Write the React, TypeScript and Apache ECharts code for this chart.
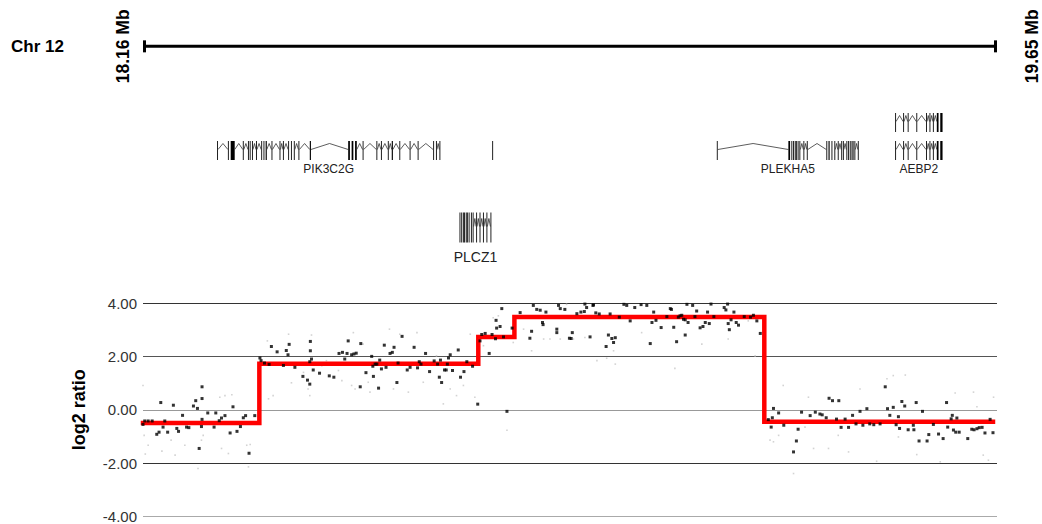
import { useEffect, useRef } from "react";
import * as echarts from "echarts";

// ---------- data ----------
const CHROM_LABEL = "Chr 12";
const REGION_START = 18.16; // Mb
const REGION_END = 19.65; // Mb
const RULER_LANE = -2.72;

// copy-number segments (Mb, log2 ratio)
const SEG_START = [18.16, 18.363, 18.745, 18.808, 19.244];
const SEG_END = [18.363, 18.745, 18.808, 19.244, 19.643];
const SEG_VALUE = [-0.5, 1.72, 2.73, 3.48, -0.45];

// probes (Mb, log2 ratio)
const PROBES: [number, number][] = [
  [18.16, -0.55], [18.163, -0.42], [18.169, -0.42], [18.176, -0.42], [18.184, -0.92], [18.188, -0.84], [18.191, 0.27], [18.195, -0.65],
  [18.198, -0.42], [18.203, -0.84], [18.213, 0.17], [18.219, -0.7], [18.222, -0.81], [18.229, -0.21], [18.236, -0.65], [18.24, -0.67],
  [18.248, 0.14], [18.252, 0.34], [18.255, 0.05], [18.258, -1.45], [18.262, -0.63], [18.263, -0.36], [18.263, 0.42], [18.263, 0.86],
  [18.273, -0.12], [18.284, -0.65], [18.287, -0.12], [18.293, -0.41], [18.297, -0.31], [18.303, -0.22], [18.312, -0.87], [18.317, 0.11],
  [18.324, -0.81], [18.33, -0.63], [18.335, -0.3], [18.339, -0.22], [18.345, -1.63], [18.355, -0.22],
  [18.364, 1.94], [18.366, 1.84], [18.372, 1.75], [18.38, 1.7], [18.384, 2.37], [18.394, 2.17], [18.405, 1.66], [18.41, 2.22],
  [18.413, 2.06], [18.415, 2.45], [18.425, 1.59], [18.439, 1.25], [18.447, 1.11], [18.451, 0.96], [18.451, 1.8], [18.452, 2.21],
  [18.452, 2.56], [18.454, 1.9], [18.457, 1.49], [18.468, 1.37], [18.485, 1.27], [18.493, 1.22], [18.502, 2.11], [18.508, 2.15],
  [18.512, 1.9], [18.516, 2.11], [18.518, 2.58], [18.524, 2.06], [18.528, 2.09], [18.532, 2.12],
  [18.539, 0.86], [18.54, 2.48], [18.549, 1.39], [18.559, 2.0], [18.561, 1.63], [18.562, 1.25], [18.565, 1.71], [18.568, 1.71],
  [18.571, 0.81], [18.573, 1.86], [18.576, 1.53], [18.581, 2.42], [18.584, 1.59], [18.591, 2.11], [18.595, 2.15], [18.598, 2.34],
  [18.603, 1.02], [18.605, 1.75], [18.612, 2.75], [18.621, 1.49], [18.626, 1.59], [18.633, 2.34], [18.639, 1.57], [18.642, 1.8],
  [18.645, 1.71], [18.653, 2.11], [18.66, 1.43], [18.668, 1.83], [18.674, 1.71], [18.677, 1.22], [18.679, 1.86], [18.681, 1.02],
  [18.686, 1.49], [18.689, 1.49], [18.691, 1.71], [18.693, 1.94], [18.696, 2.06], [18.7, 1.47], [18.71, 2.24], [18.714, 1.22],
  [18.72, 1.43], [18.725, 1.8], [18.735, 1.63], [18.744, 0.21],
  [18.748, 2.58], [18.751, 2.82], [18.757, 2.86], [18.764, 2.11], [18.769, 2.82], [18.775, 2.66], [18.776, 3.35], [18.777, 3.06],
  [18.783, 3.12], [18.786, 3.79], [18.789, 2.73], [18.795, -0.06], [18.804, 3.06], [18.818, 3.64], [18.835, 2.68], [18.838, 2.94],
  [18.841, 3.91], [18.847, 3.76], [18.853, 3.73], [18.857, 3.27], [18.858, 3.19], [18.863, 3.66], [18.882, 3.02], [18.882, 2.89],
  [18.885, 3.91], [18.888, 3.79], [18.896, 3.76], [18.904, 2.68],
  [18.907, 2.67], [18.909, 2.89], [18.917, 3.6], [18.924, 3.66], [18.93, 3.68], [18.931, 3.96], [18.934, 3.83], [18.94, 2.73],
  [18.945, 3.91], [18.946, 3.93], [18.95, 3.63], [18.956, 3.59], [18.968, 2.37], [18.972, 2.8], [18.975, 3.59], [18.978, 2.67],
  [18.981, 2.52], [18.984, 2.7], [18.991, 3.47], [18.999, 3.95], [19.004, 3.91], [19.01, 3.33], [19.018, 3.83], [19.029, 3.94],
  [19.039, 3.91], [19.045, 2.48], [19.048, 3.27], [19.051, 3.66], [19.055, 3.35], [19.064, 3.08], [19.074, 3.49], [19.08, 3.79],
  [19.082, 3.76], [19.086, 3.09], [19.091, 2.55], [19.094, 3.47], [19.097, 3.52], [19.1, 3.54], [19.103, 3.39], [19.106, 3.37],
  [19.106, 2.8], [19.109, 3.95], [19.111, 3.27], [19.119, 3.91], [19.123, 3.49], [19.126, 3.7], [19.132, 3.07], [19.137, 3.12],
  [19.141, 3.27], [19.145, 3.66], [19.148, 3.23], [19.151, 3.96], [19.156, 3.49], [19.174, 3.83], [19.177, 3.74], [19.18, 3.96],
  [19.181, 3.23], [19.183, 3.0], [19.186, 3.37], [19.191, 3.66], [19.195, 3.27], [19.199, 3.17], [19.209, 3.49], [19.22, 3.47],
  [19.225, 3.54], [19.231, 3.33], [19.237, 2.86],
  [19.251, -0.37], [19.256, -0.65], [19.258, -0.3], [19.26, 0.05], [19.269, -0.12], [19.278, -0.58],
  [19.295, -1.58], [19.3, -1.17], [19.303, -0.73], [19.309, -0.09], [19.324, -0.22], [19.333, -0.09], [19.341, -0.16], [19.345, -0.19],
  [19.352, -0.3], [19.357, 0.43], [19.363, 0.34], [19.37, -0.35], [19.374, 0.34], [19.378, -0.66], [19.385, -0.35], [19.391, -0.66],
  [19.398, -0.21], [19.404, -0.53], [19.411, -0.06], [19.416, -0.58], [19.423, 0.04], [19.428, -0.53], [19.435, -0.56], [19.446, -0.53],
  [19.455, 0.86], [19.459, 0.04], [19.463, -0.21], [19.469, 0.09], [19.474, -0.56], [19.478, -0.26], [19.48, -0.7], [19.484, 0.31],
  [19.489, 0.14], [19.495, -0.75], [19.504, -0.58], [19.505, -0.75], [19.509, 0.27], [19.514, -1.17], [19.52, -0.06], [19.528, -1.17],
  [19.531, -0.93], [19.539, -0.55], [19.548, -0.91], [19.556, -1.08], [19.562, 0.27], [19.564, -0.65], [19.57, -0.34], [19.572, -0.21],
  [19.574, -0.76], [19.578, -0.84], [19.58, -0.31], [19.584, -0.84], [19.599, -1.08], [19.606, -0.73], [19.61, -0.75], [19.615, -0.71],
  [19.619, -0.67], [19.624, -0.66], [19.629, -0.87], [19.638, -0.36], [19.643, -0.86],
];

// faint (low-weight) probes
const FAINT_PROBES: [number, number][] = [
  [18.16, 0.91], [18.162, -0.96], [18.164, -1.66], [18.169, -1.33], [18.193, -1.55], [18.209, -1.14], [18.216, -1.7], [18.233, -1.33],
  [18.256, -2.2], [18.262, -1.14], [18.265, -0.96], [18.294, 0.47], [18.303, 0.53], [18.315, 0.56], [18.297, -1.45], [18.309, -1.64],
  [18.341, -1.33], [18.347, -1.3], [18.344, -2.14], [18.377, 2.58], [18.379, 0.41], [18.387, 0.53], [18.414, 2.83], [18.419, 1.01],
  [18.44, 1.4], [18.448, 0.78], [18.451, 0.53], [18.454, 2.8], [18.472, 1.65], [18.48, 1.84], [18.501, 1.47], [18.507, 1.09],
  [18.527, 2.89], [18.524, 0.91], [18.53, 0.78], [18.544, 2.46], [18.553, 1.03], [18.556, 0.66], [18.59, 3.02], [18.597, 0.78],
  [18.608, 2.83], [18.623, 0.66], [18.638, 2.89], [18.649, 1.03], [18.672, 2.02], [18.684, 0.22], [18.696, 0.78], [18.707, 0.53],
  [18.719, 0.91], [18.731, 2.83], [18.739, 0.47], [18.754, 2.4], [18.771, 3.45], [18.78, 3.52], [18.795, -0.77], [18.806, 2.52],
  [18.824, 3.02], [18.838, 2.21], [18.859, 2.65], [18.87, 2.65], [18.888, 2.65], [18.899, 3.95], [18.911, 2.65], [18.931, 2.71],
  [18.952, 1.84], [18.969, 1.93], [18.981, 2.21], [18.984, 1.71], [19.03, 2.89], [19.088, 1.55], [19.135, 2.46], [19.181, 2.65],
  [19.216, 3.33], [19.228, 2.02], [19.245, 0.47], [19.254, -1.14], [19.26, -1.2], [19.269, -0.96], [19.277, 0.91], [19.295, -2.39],
  [19.315, -0.65], [19.321, 0.47], [19.33, -1.45], [19.356, -1.45], [19.373, -0.96], [19.391, -1.58], [19.411, 0.78], [19.44, -1.93],
  [19.458, 1.16], [19.469, 1.28], [19.49, 1.3], [19.478, -1.02], [19.51, -1.68], [19.551, -1.95], [19.577, 0.63], [19.609, 0.66],
  [19.615, 0.11], [19.626, -1.7], [19.635, -1.89], [19.644, 0.47],
];

// gene models: exons as [start, end] in Mb, lane = track row
type Transcript = { gene: string; lane: number; label: boolean; exons: [number, number][] };
const PIK3C2G_EXONS: [number, number][] = [
  [18.29, 18.29], [18.309, 18.309], [18.313, 18.32], [18.335, 18.335], [18.344, 18.344], [18.347, 18.347], [18.351, 18.351],
  [18.358, 18.358], [18.367, 18.367], [18.371, 18.371], [18.374, 18.376], [18.385, 18.385], [18.399, 18.399], [18.405, 18.405],
  [18.414, 18.414], [18.419, 18.419], [18.424, 18.424], [18.432, 18.432], [18.451, 18.453], [18.518, 18.521], [18.524, 18.527],
  [18.53, 18.533], [18.544, 18.544], [18.568, 18.568], [18.576, 18.576], [18.588, 18.588], [18.594, 18.596], [18.608, 18.608],
  [18.626, 18.626], [18.64, 18.64], [18.667, 18.667], [18.672, 18.672], [18.678, 18.678],
];
const PIK3C2G_ALT_EXONS: [number, number][] = [[18.77, 18.771]];
const PLEKHA5_EXONS: [number, number][] = [
  [19.162, 19.162], [19.286, 19.289], [19.292, 19.292], [19.295, 19.295], [19.298, 19.298], [19.3, 19.3], [19.303, 19.303],
  [19.306, 19.306], [19.313, 19.313], [19.319, 19.319], [19.353, 19.353], [19.356, 19.358], [19.362, 19.362], [19.367, 19.367],
  [19.373, 19.373], [19.379, 19.379], [19.382, 19.382], [19.388, 19.388], [19.391, 19.391], [19.394, 19.394], [19.397, 19.397],
  [19.399, 19.399], [19.402, 19.402], [19.408, 19.408],
];
const AEBP2_EXONS: [number, number][] = [
  [19.473, 19.473], [19.487, 19.487], [19.495, 19.495], [19.51, 19.51], [19.527, 19.527], [19.533, 19.533], [19.539, 19.539],
  [19.545, 19.548], [19.551, 19.555],
];
const PLCZ1_EXONS: [number, number][] = [
  [18.713, 18.713], [18.716, 18.716], [18.719, 18.719], [18.721, 18.721], [18.724, 18.724], [18.726, 18.726], [18.729, 18.729],
  [18.733, 18.733], [18.736, 18.736], [18.742, 18.742], [18.748, 18.748], [18.754, 18.754], [18.76, 18.76], [18.767, 18.767],
];
const TRANSCRIPTS: Transcript[] = [
  { gene: "PIK3C2G", lane: 1, label: true, exons: PIK3C2G_EXONS },
  { gene: "PIK3C2G", lane: 1, label: false, exons: PIK3C2G_ALT_EXONS },
  { gene: "PLEKHA5", lane: 1, label: true, exons: PLEKHA5_EXONS },
  { gene: "AEBP2", lane: 0, label: false, exons: AEBP2_EXONS },
  { gene: "AEBP2", lane: 1, label: true, exons: AEBP2_EXONS },
  { gene: "PLCZ1", lane: 3.75, label: true, exons: PLCZ1_EXONS },
];
const EXPANDED_GENES = ["PLCZ1"];
const Y_MIN = -4;
const Y_MAX = 4;
const Y_STEP = 2;

// ---------- styling ----------
const FONT = "'Liberation Sans', Arial, Helvetica, sans-serif";

function buildOption(): any {
  const stepData: [number, number][] = SEG_START.map((s, i) => [s, SEG_VALUE[i]] as [number, number]);
  stepData.push([SEG_END[SEG_END.length - 1], SEG_VALUE[SEG_VALUE.length - 1]]);

  return {
    animation: false,
    backgroundColor: "#fff",
    title: {
      text: CHROM_LABEL,
      left: 11,
      top: 38,
      padding: 0,
      textStyle: { fontSize: 17, fontWeight: "bold", color: "#000", fontFamily: FONT },
    },
    grid: [
      { left: 143, right: 45, top: 38.5, height: 224 },
      { left: 143, right: 45, top: 303, height: 216 },
    ],
    xAxis: [
      { gridIndex: 0, type: "value", min: REGION_START, max: REGION_END, show: false },
      { gridIndex: 1, type: "value", min: REGION_START, max: REGION_END, show: false },
    ],
    yAxis: [
      { gridIndex: 0, type: "value", min: -3, max: 5, inverse: true, show: false },
      {
        gridIndex: 1,
        type: "value",
        min: Y_MIN,
        max: Y_MAX,
        interval: Y_STEP,
        name: "log2 ratio",
        nameLocation: "middle",
        nameGap: 55,
        nameTextStyle: { fontSize: 18, fontWeight: "bold", color: "#000", fontFamily: FONT },
        axisLine: { show: false },
        axisTick: { show: false },
        axisLabel: {
          formatter: (v: number) => v.toFixed(2),
          fontSize: 15,
          color: "#333",
          margin: 6,
          fontFamily: FONT,
        },
        splitLine: { show: true, lineStyle: { color: ["#aaa", "#333", "#999", "#555", "#333"], width: 1 } },
      },
    ],
    series: [
      {
        type: "custom",
        name: "ruler",
        xAxisIndex: 0,
        yAxisIndex: 0,
        silent: true,
        data: [[REGION_START, REGION_END, RULER_LANE]],
        encode: { x: [0, 1], y: 2 },
        renderItem: (_params: any, api: any) => {
          const p1 = api.coord([api.value(0), api.value(2)]);
          const p2 = api.coord([api.value(1), api.value(2)]);
          const y = p1[1];
          const x1 = p1[0];
          const x2 = p2[0];
          const lbl = { align: "center", verticalAlign: "middle", fontSize: 17.5, fontWeight: "bold", fontFamily: FONT, fill: "#000" };
          return {
            type: "group",
            children: [
              { type: "line", shape: { x1, y1: y, x2, y2: y }, style: { stroke: "#000", lineWidth: 3 } },
              { type: "line", shape: { x1: x1 + 1.5, y1: y - 6, x2: x1 + 1.5, y2: y + 6 }, style: { stroke: "#000", lineWidth: 3 } },
              { type: "line", shape: { x1: x2 - 1.5, y1: y - 6, x2: x2 - 1.5, y2: y + 6 }, style: { stroke: "#000", lineWidth: 3 } },
              { type: "text", x: x1 - 20, y, rotation: Math.PI / 2, style: { ...lbl, text: `${REGION_START.toFixed(2)} Mb` } },
              { type: "text", x: x2 + 35, y, rotation: Math.PI / 2, style: { ...lbl, text: `${REGION_END.toFixed(2)} Mb` } },
            ],
          };
        },
        z: 2,
      },
      {
        type: "custom",
        name: "genes",
        xAxisIndex: 0,
        yAxisIndex: 0,
        silent: true,
        data: TRANSCRIPTS.map((t) => [t.exons[0][0], t.exons[t.exons.length - 1][1], t.lane]),
        encode: { x: [0, 1], y: 2 },
        renderItem: (params: any, api: any) => {
          const t = TRANSCRIPTS[params.dataIndex];
          const expanded = EXPANDED_GENES.includes(t.gene);
          const h = expanded ? 30 : 19;
          const cy = api.coord([REGION_START, t.lane])[1];
          const children: any[] = [];
          let prevEnd: number | null = null;
          let first = 0;
          let last = 0;
          t.exons.forEach(([s, e], i) => {
            const xs = api.coord([s, t.lane])[0];
            const xe = api.coord([e, t.lane])[0];
            const w = Math.max(1, xe - xs);
            const left = w <= 1 ? xs - 0.5 : xs;
            if (i === 0) first = left;
            if (prevEnd !== null && left - prevEnd > 2) {
              const mid = (prevEnd + left) / 2;
              children.push({
                type: "polyline",
                shape: { points: [[prevEnd, cy - 1], [mid, cy - (expanded ? 9 : 7)], [left, cy - 1]] },
                style: { stroke: "#333", lineWidth: 0.8, fill: null },
              });
            }
            children.push({
              type: "rect",
              shape: { x: left, y: cy - h / 2, width: w, height: h },
              style: { fill: w > 1 ? "#000" : "#222" },
            });
            prevEnd = left + w;
            last = left + w;
          });
          if (t.label) {
            children.push({
              type: "text",
              x: (first + last) / 2,
              y: cy + h / 2 + (expanded ? 7 : 3),
              style: {
                text: t.gene,
                align: "center",
                verticalAlign: "top",
                fontSize: expanded ? 14 : 12,
                fontFamily: FONT,
                fill: "#222",
              },
            });
          }
          return { type: "group", children };
        },
        z: 2,
      },
      {
        type: "scatter",
        name: "faint probes",
        xAxisIndex: 1,
        yAxisIndex: 1,
        data: FAINT_PROBES,
        symbol: "rect",
        symbolSize: 1.6,
        itemStyle: { color: "#c8c8c8" },
        silent: true,
        z: 2,
      },
      {
        type: "line",
        name: "segments",
        xAxisIndex: 1,
        yAxisIndex: 1,
        data: stepData,
        step: "end",
        symbol: "none",
        lineStyle: { color: "#f00", width: 4.5, join: "miter", cap: "square" },
        silent: true,
        z: 3,
      },
      {
        type: "scatter",
        name: "probes",
        xAxisIndex: 1,
        yAxisIndex: 1,
        data: PROBES,
        symbol: "rect",
        symbolSize: 3,
        itemStyle: { color: "#000" },
        silent: true,
        z: 4,
      },
    ],
  };
}

export default function App() {
  const ref = useRef<HTMLDivElement>(null);
  useEffect(() => {
    if (!ref.current) return;
    const chart = echarts.init(ref.current, null, { renderer: "svg" });
    chart.setOption(buildOption());
    return () => chart.dispose();
  }, []);
  return (
    <div
      ref={ref}
      style={{ position: "fixed", left: 0, top: 0, width: 1042, height: 524, background: "#fff" }}
    />
  );
}
